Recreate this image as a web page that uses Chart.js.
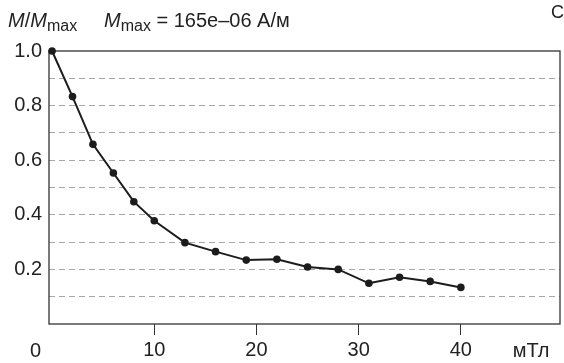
<!DOCTYPE html>
<html lang="ru">
<head>
  <meta charset="UTF-8" />
  <title>M/Mmax</title>
  <script src="https://cdn.jsdelivr.net/npm/chart.js"></script>
  <style>
    body {
      margin: 0;
      background: white;
      overflow: hidden;
      font-family: 'Liberation Sans', Arial, sans-serif;
      color: #222;
    }

    .wrap {
      position: relative;
      width: 564px;
      height: 363px;
    }

    .title {
      position: absolute;
      top: 10px;
      font-size: 20px;
      line-height: 20px;
      white-space: nowrap;
    }

    .title sub {
      font-size: 16px;
      vertical-align: -4px;
      line-height: 0;
    }

    .corner {
      position: absolute;
      left: 551px;
      top: 3px;
      font-size: 18px;
      line-height: 18px;
    }
  </style>
</head>
<body>

  <div class="wrap">
    <canvas id="demag" width="564" height="363"></canvas>
    <div class="title" style="left: 8px;"><i>M</i>/<i>M</i><sub>max</sub></div>
    <div class="title" style="left: 104px;"><i>M</i><sub>max</sub> = 165e–06 А/м</div>
    <div class="corner">C</div>
  </div>

  <script>
    // field steps (mT) and normalised magnetisation
    const fieldMT = [0, 2, 4, 6, 8, 10, 13, 16, 19, 22, 25, 28, 31, 34, 37, 40];
    const magRatio = [1.0, 0.833, 0.658, 0.553, 0.448, 0.378, 0.298, 0.265, 0.234, 0.237, 0.209, 0.200, 0.149, 0.171, 0.156, 0.134];
    const xTicks = [10, 20, 30, 40];
    const yLabels = [0.2, 0.4, 0.6, 0.8, 1.0];

    const FONT = { family: "'Liberation Sans', Arial, sans-serif", size: 20 };
    const INK = "#1c1c1c";

    // frame round the plot + the lone "0" and unit label under the axis
    const frame = {
      id: "frame",
      beforeDatasetsDraw(chart) {
        const a = chart.chartArea;
        const ctx = chart.ctx;
        ctx.save();
        ctx.strokeStyle = "#333";
        ctx.lineWidth = 1.3;
        ctx.strokeRect(a.left, a.top, a.right - a.left, a.bottom - a.top);
        ctx.restore();
      },
      afterDraw(chart) {
        const ctx = chart.ctx;
        ctx.save();
        ctx.fillStyle = "#222";
        ctx.font = `${FONT.size}px ${FONT.family}`;
        ctx.textAlign = "center";
        ctx.textBaseline = "alphabetic";
        ctx.fillText("0", 35.5, 357);
        ctx.fillText("мТл", 531, 357);
        ctx.restore();
      }
    };

    new Chart(document.getElementById("demag"), {
      type: "line",
      data: {
        datasets: [{
          data: fieldMT.map((x, i) => ({ x: x, y: magRatio[i] })),
          borderColor: INK,
          borderWidth: 2,
          backgroundColor: INK,
          pointRadius: 3.8,
          pointBorderWidth: 0,
          pointBackgroundColor: INK,
          tension: 0,
          clip: false
        }]
      },
      options: {
        responsive: false,
        animation: false,
        layout: { padding: { top: 51, right: 3, left: 0, bottom: 0 } },
        plugins: {
          legend: { display: false },
          tooltip: { enabled: false }
        },
        scales: {
          x: {
            type: "linear",
            min: -0.3,
            max: 49.7,
            afterBuildTicks: s => { s.ticks = xTicks.map(v => ({ value: v })); },
            afterFit: s => { s.height = 39; },
            border: { display: false },
            grid: {
              drawOnChartArea: false,
              drawTicks: true,
              tickLength: 11,
              color: "#333",
              lineWidth: 1
            },
            ticks: {
              color: "#222",
              font: FONT,
              padding: 3,
              maxRotation: 0
            }
          },
          y: {
            min: 0,
            max: 1,
            afterFit: s => { s.width = 49; },
            border: { display: false, dash: [6, 4] },
            grid: {
              drawTicks: false,
              color: c => (c.tick.value < 0.05 || c.tick.value > 0.95) ? "rgba(0,0,0,0)" : "#a8a8a8",
              lineWidth: 1
            },
            ticks: {
              stepSize: 0.1,
              color: "#222",
              font: FONT,
              padding: 7,
              callback: v => yLabels.some(l => Math.abs(l - v) < 1e-6) ? v.toFixed(1) : ""
            }
          }
        }
      },
      plugins: [frame]
    });
  </script>

</body>
</html>
